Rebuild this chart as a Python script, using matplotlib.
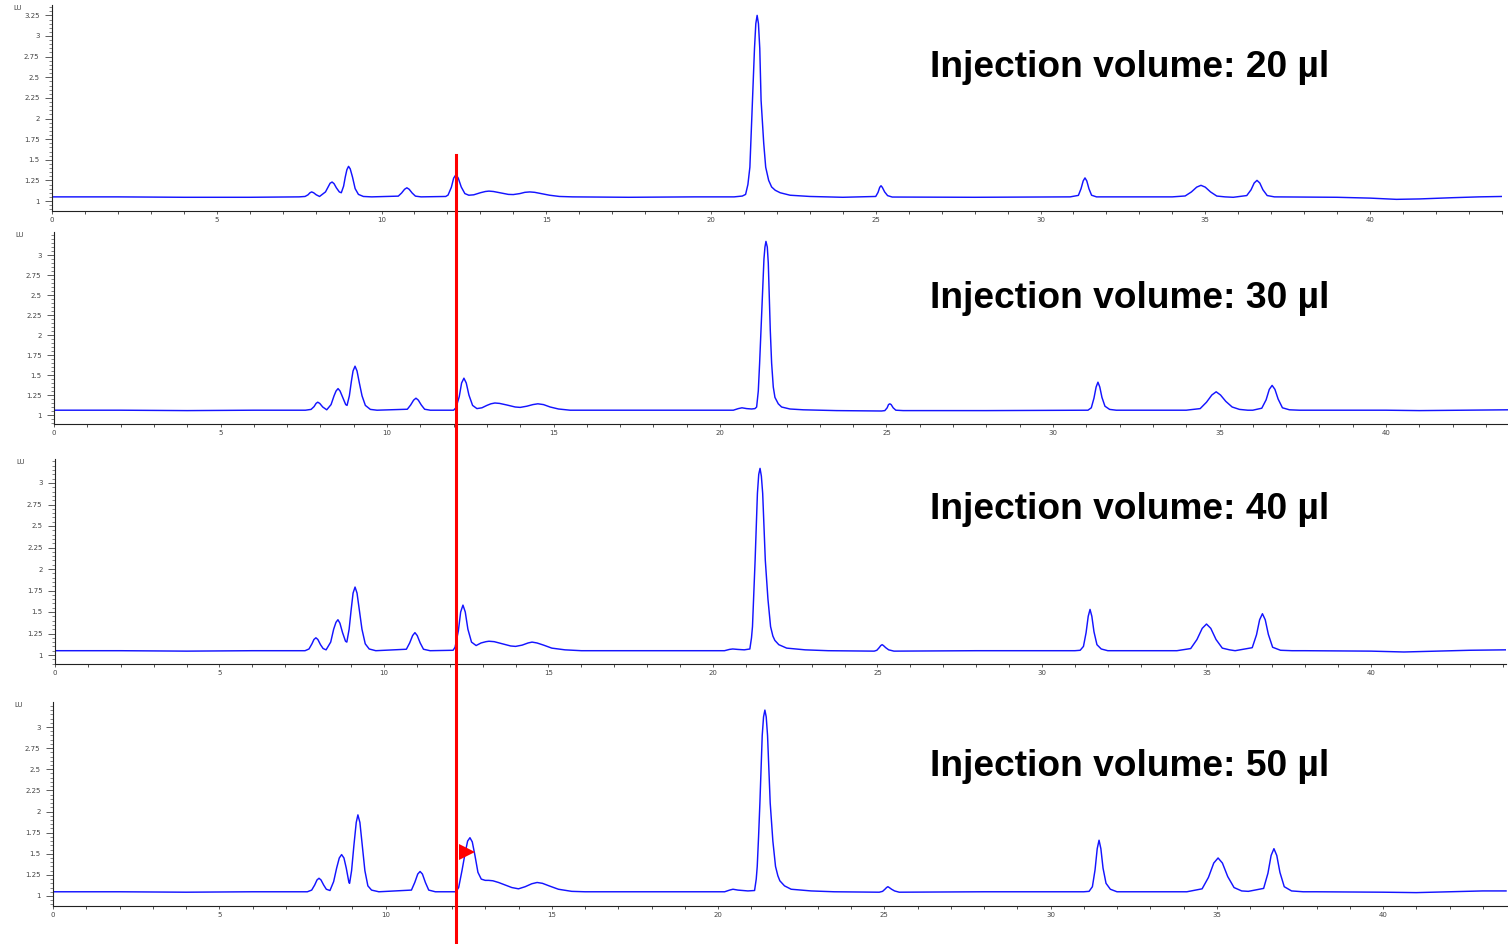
import matplotlib
matplotlib.use("Agg")
import matplotlib.pyplot as plt
from matplotlib.lines import Line2D
from matplotlib.ticker import MultipleLocator, FuncFormatter

# ---------------- data: (retention time [min], signal [LU]) ----------------
labels = ["Injection volume: 20 µl", "Injection volume: 30 µl",
          "Injection volume: 40 µl", "Injection volume: 50 µl"]

trace_20 = [
    (0, 1.05), (2, 1.05), (4, 1.045), (6, 1.045), (7.5, 1.05), (7.68, 1.055), (7.77, 1.075),
    (7.83, 1.10), (7.88, 1.11), (7.94, 1.10), (8.02, 1.075), (8.12, 1.055), (8.3, 1.11),
    (8.38, 1.17), (8.44, 1.215), (8.5, 1.23), (8.56, 1.21), (8.63, 1.16), (8.72, 1.11),
    (8.78, 1.10), (8.85, 1.18), (8.9, 1.29), (8.95, 1.38), (9.0, 1.42), (9.05, 1.39),
    (9.12, 1.29), (9.2, 1.15), (9.3, 1.08), (9.45, 1.055), (9.7, 1.05),
    (10.51, 1.059), (10.61, 1.097), (10.7, 1.142), (10.77, 1.16), (10.84, 1.142), (10.93, 1.097),
    (11.03, 1.059), (11.2, 1.05),
    (11.95, 1.055), (12.02, 1.072), (12.12, 1.166), (12.19, 1.277), (12.26, 1.32), (12.33, 1.277),
    (12.42, 1.17), (12.53, 1.09), (12.65, 1.07), (12.8, 1.075), (13.0, 1.10), (13.15, 1.115),
    (13.26, 1.12), (13.4, 1.115), (13.6, 1.10), (13.85, 1.08), (14.0, 1.078), (14.2, 1.09),
    (14.35, 1.105), (14.5, 1.11), (14.65, 1.105), (14.85, 1.09), (15.1, 1.07), (15.4, 1.055),
    (15.8, 1.05), (17.5, 1.045), (19.5, 1.05),
    (20.7, 1.05), (20.95, 1.06), (21.05, 1.08), (21.12, 1.2), (21.18, 1.41), (21.26, 2.22),
    (21.32, 2.85), (21.36, 3.15), (21.4, 3.25), (21.44, 3.15), (21.48, 2.85), (21.52, 2.22),
    (21.6, 1.7), (21.66, 1.41), (21.75, 1.25), (21.84, 1.17), (21.95, 1.13), (22.1, 1.10),
    (22.4, 1.07), (23.0, 1.055), (24.0, 1.045),
    (25.0, 1.055), (25.07, 1.105), (25.12, 1.165), (25.16, 1.185), (25.2, 1.165), (25.27, 1.11),
    (25.36, 1.065), (25.5, 1.048), (28, 1.045), (30.9, 1.05),
    (31.15, 1.068), (31.23, 1.149), (31.295, 1.243), (31.35, 1.28), (31.405, 1.243),
    (31.47, 1.149), (31.55, 1.07), (31.7, 1.05), (34.0, 1.05),
    (34.39, 1.061), (34.58, 1.11), (34.74, 1.168), (34.87, 1.19), (35.0, 1.168), (35.16, 1.11),
    (35.35, 1.06), (35.6, 1.05), (35.85, 1.045),
    (36.26, 1.066), (36.39, 1.136), (36.485, 1.218), (36.57, 1.25), (36.655, 1.218),
    (36.75, 1.136), (36.88, 1.066), (37.1, 1.05),
    (38, 1.048), (39, 1.045), (40, 1.035), (40.8, 1.02), (41.5, 1.025), (42.5, 1.04),
    (43.3, 1.05), (44, 1.055),
]

trace_30 = [
    (0, 1.06), (2, 1.06), (4, 1.055), (6, 1.06), (7.55, 1.06), (7.72, 1.07), (7.81, 1.105),
    (7.87, 1.145), (7.92, 1.16), (7.98, 1.145), (8.07, 1.1), (8.19, 1.065), (8.32, 1.13),
    (8.41, 1.24), (8.47, 1.30), (8.53, 1.33), (8.59, 1.30), (8.67, 1.22), (8.76, 1.13),
    (8.8, 1.12), (8.87, 1.24), (8.93, 1.42), (8.98, 1.55), (9.04, 1.61), (9.1, 1.55),
    (9.17, 1.40), (9.25, 1.24), (9.35, 1.12), (9.5, 1.07), (9.7, 1.06),
    (10.61, 1.072), (10.71, 1.125), (10.8, 1.186), (10.87, 1.21), (10.94, 1.186), (11.03, 1.125),
    (11.13, 1.072), (11.3, 1.06),
    (12.0, 1.06), (12.07, 1.09), (12.17, 1.23), (12.24, 1.40), (12.31, 1.46), (12.38, 1.40),
    (12.46, 1.25), (12.57, 1.12), (12.7, 1.08), (12.85, 1.09), (13.0, 1.12), (13.12, 1.14),
    (13.24, 1.15), (13.38, 1.145), (13.6, 1.125), (13.85, 1.10), (14.0, 1.095), (14.2, 1.11),
    (14.38, 1.13), (14.53, 1.14), (14.7, 1.13), (14.9, 1.10), (15.15, 1.075), (15.5, 1.06),
    (17.5, 1.06), (19.5, 1.06),
    (20.4, 1.06), (20.55, 1.08), (20.66, 1.09), (20.8, 1.08), (20.95, 1.075), (21.05, 1.08),
    (21.1, 1.1), (21.15, 1.3), (21.19, 1.65), (21.23, 2.06), (21.28, 2.6), (21.32, 2.95),
    (21.35, 3.1), (21.38, 3.17), (21.42, 3.1), (21.45, 2.9), (21.48, 2.5), (21.51, 2.06),
    (21.55, 1.65), (21.6, 1.35), (21.65, 1.22), (21.75, 1.14), (21.85, 1.10), (22.1, 1.075),
    (22.5, 1.065), (23.5, 1.055), (24.85, 1.05),
    (24.95, 1.055), (25.02, 1.09), (25.06, 1.13), (25.1, 1.14), (25.14, 1.13), (25.2, 1.09),
    (25.28, 1.06), (25.5, 1.055), (28, 1.055), (30.9, 1.06),
    (31.05, 1.06), (31.15, 1.09), (31.23, 1.21), (31.295, 1.35), (31.35, 1.41), (31.405, 1.35),
    (31.47, 1.22), (31.56, 1.11), (31.7, 1.07), (31.9, 1.06), (34.0, 1.06),
    (34.42, 1.08), (34.61, 1.16), (34.77, 1.25), (34.9, 1.29), (35.03, 1.25), (35.19, 1.17),
    (35.38, 1.10), (35.6, 1.07), (35.85, 1.06), (36.0, 1.06),
    (36.27, 1.085), (36.4, 1.19), (36.495, 1.32), (36.58, 1.37), (36.665, 1.32), (36.76, 1.2),
    (36.89, 1.09), (37.1, 1.065), (37.4, 1.06),
    (38, 1.06), (40, 1.06), (41, 1.055), (42.5, 1.06), (43.7, 1.065),
]

trace_40 = [
    (0, 1.05), (2, 1.05), (4, 1.045), (6, 1.05), (7.6, 1.05), (7.72, 1.07), (7.81, 1.13),
    (7.87, 1.18), (7.93, 1.20), (7.99, 1.18), (8.07, 1.12), (8.15, 1.075), (8.24, 1.06),
    (8.38, 1.15), (8.47, 1.30), (8.54, 1.38), (8.6, 1.41), (8.66, 1.37), (8.74, 1.26),
    (8.83, 1.16), (8.87, 1.15), (8.94, 1.3), (9.0, 1.52), (9.06, 1.72), (9.12, 1.79),
    (9.18, 1.72), (9.25, 1.52), (9.33, 1.3), (9.43, 1.13), (9.55, 1.07), (9.75, 1.05),
    (10.68, 1.067), (10.78, 1.14), (10.87, 1.226), (10.94, 1.26), (11.01, 1.226), (11.1, 1.14),
    (11.2, 1.067), (11.4, 1.05),
    (12.1, 1.055), (12.16, 1.09), (12.26, 1.28), (12.33, 1.5), (12.4, 1.58), (12.47, 1.5),
    (12.55, 1.3), (12.66, 1.15), (12.8, 1.11), (12.95, 1.14), (13.1, 1.155), (13.19, 1.16),
    (13.35, 1.155), (13.6, 1.13), (13.85, 1.105), (14.0, 1.10), (14.2, 1.115), (14.38, 1.14),
    (14.5, 1.15), (14.65, 1.14), (14.85, 1.115), (15.1, 1.08), (15.5, 1.06), (16, 1.05),
    (18, 1.05), (20.35, 1.05),
    (20.5, 1.065), (20.6, 1.07), (20.75, 1.065), (20.95, 1.06), (21.12, 1.07), (21.17, 1.2),
    (21.2, 1.33), (21.24, 1.7), (21.28, 2.1), (21.32, 2.55), (21.35, 2.88), (21.39, 3.1),
    (21.43, 3.17), (21.47, 3.08), (21.51, 2.88), (21.55, 2.5), (21.59, 2.1), (21.67, 1.65),
    (21.75, 1.33), (21.82, 1.22), (21.88, 1.17), (22.0, 1.12), (22.24, 1.08), (22.8, 1.06),
    (23.5, 1.05), (24.9, 1.045),
    (24.98, 1.055), (25.05, 1.085), (25.1, 1.11), (25.14, 1.12), (25.18, 1.11), (25.25, 1.085),
    (25.34, 1.06), (25.5, 1.045), (28, 1.05), (31.0, 1.05),
    (31.16, 1.055), (31.26, 1.10), (31.34, 1.26), (31.405, 1.45), (31.46, 1.53), (31.515, 1.45),
    (31.58, 1.27), (31.67, 1.12), (31.8, 1.07), (32.0, 1.05), (34.1, 1.05),
    (34.52, 1.075), (34.71, 1.18), (34.87, 1.31), (35.0, 1.36), (35.13, 1.31), (35.29, 1.18),
    (35.48, 1.08), (35.7, 1.06), (35.87, 1.05),
    (36.39, 1.085), (36.52, 1.235), (36.615, 1.41), (36.7, 1.48), (36.785, 1.41), (36.88, 1.24),
    (37.01, 1.09), (37.25, 1.055), (37.6, 1.05),
    (38, 1.05), (40, 1.045), (41, 1.035), (42, 1.045), (43, 1.055), (44.1, 1.06),
]

trace_50 = [
    (0, 1.05), (2, 1.05), (4, 1.045), (6, 1.05), (7.65, 1.05), (7.78, 1.07), (7.87, 1.13),
    (7.94, 1.19), (8.0, 1.21), (8.06, 1.19), (8.14, 1.13), (8.22, 1.08), (8.33, 1.065),
    (8.44, 1.17), (8.53, 1.33), (8.61, 1.45), (8.68, 1.49), (8.75, 1.45), (8.82, 1.33),
    (8.9, 1.16), (8.92, 1.15), (8.98, 1.3), (9.05, 1.6), (9.12, 1.87), (9.17, 1.96),
    (9.23, 1.87), (9.3, 1.6), (9.38, 1.3), (9.47, 1.12), (9.58, 1.07), (9.8, 1.05),
    (10.78, 1.07), (10.88, 1.16), (10.97, 1.26), (11.04, 1.29), (11.11, 1.26), (11.2, 1.16),
    (11.3, 1.07), (11.5, 1.05),
    (12.12, 1.05), (12.2, 1.10), (12.3, 1.30), (12.4, 1.52), (12.47, 1.65), (12.54, 1.69),
    (12.61, 1.64), (12.69, 1.48), (12.78, 1.28), (12.88, 1.20), (13.0, 1.185), (13.1, 1.185),
    (13.23, 1.18), (13.4, 1.16), (13.6, 1.13), (13.8, 1.10), (14.0, 1.085), (14.2, 1.11),
    (14.4, 1.145), (14.56, 1.16), (14.72, 1.15), (14.92, 1.12), (15.2, 1.08), (15.6, 1.055),
    (16, 1.05), (18, 1.05), (20.2, 1.05),
    (20.35, 1.07), (20.45, 1.08), (20.6, 1.07), (20.9, 1.06), (21.1, 1.065), (21.15, 1.2),
    (21.18, 1.35), (21.22, 1.7), (21.26, 2.1), (21.3, 2.55), (21.33, 2.9), (21.37, 3.12),
    (21.41, 3.2), (21.45, 3.12), (21.49, 2.9), (21.53, 2.5), (21.57, 2.1), (21.65, 1.65),
    (21.73, 1.35), (21.8, 1.24), (21.86, 1.18), (22.0, 1.12), (22.2, 1.08), (22.8, 1.06),
    (23.5, 1.05), (24.85, 1.045),
    (24.95, 1.055), (25.02, 1.08), (25.07, 1.10), (25.11, 1.11), (25.15, 1.10), (25.22, 1.08),
    (25.31, 1.06), (25.45, 1.045), (28, 1.05), (31.0, 1.05),
    (31.16, 1.055), (31.26, 1.11), (31.34, 1.31), (31.405, 1.56), (31.46, 1.66), (31.515, 1.56),
    (31.58, 1.33), (31.67, 1.15), (31.8, 1.08), (32.0, 1.05), (34.1, 1.05),
    (34.56, 1.085), (34.75, 1.22), (34.91, 1.39), (35.04, 1.45), (35.17, 1.39), (35.33, 1.23),
    (35.52, 1.10), (35.75, 1.06), (35.95, 1.055),
    (36.41, 1.09), (36.54, 1.27), (36.635, 1.48), (36.72, 1.56), (36.805, 1.48), (36.9, 1.28),
    (37.03, 1.11), (37.25, 1.06), (37.6, 1.05),
    (38, 1.05), (40, 1.045), (41, 1.04), (42, 1.05), (43, 1.06), (43.7, 1.06),
]

traces = [trace_20, trace_30, trace_40, trace_50]
y_ticks_top = [3.25, 3.0, 3.0, 3.0]
marker_time = 12.26                      # red reference line (min)
arrow_time, arrow_signal = 12.45, 1.52   # red triangle on the 50 µl trace

# ---------------- layout (pixel geometry of the reference) ----------------
W, H = 1508, 944
# left px, x px per min, bottom px, top px, px of y=1, px per LU, right px
geom = [
    (52, 32.95, 211, 5, 201, 82.5, 1502),
    (54, 33.3, 424, 232, 415, 80.0, 1508),
    (55, 32.9, 664, 459, 655, 86.0, 1506),
    (53, 33.25, 906, 702, 896, 84.5, 1507),
]
text_baseline_px = [77, 308, 519, 776]

plt.rcParams['font.family'] = ['Liberation Sans', 'DejaVu Sans']
fig = plt.figure(figsize=(W / 100, H / 100), dpi=100)
fig.patch.set_facecolor('white')


def fmt(v, pos):
    return f"{v:.2f}".rstrip('0').rstrip('.')


axes = []
for i in range(4):
    left, xppu, bot, top, y1, yppu, right = geom[i]
    ax = fig.add_axes([left / W, 1 - bot / H, (right - left) / W, (bot - top) / H])
    ax.set_xlim(0, (right - left) / xppu)
    ax.set_ylim(1 - (bot - y1) / yppu, 1 + (y1 - top) / yppu)
    tt = [p[0] for p in traces[i]]
    ss = [p[1] for p in traces[i]]
    ax.plot(tt, ss, color='#1414ff', lw=1.05, solid_joinstyle='round')
    for sp in ['top', 'right']:
        ax.spines[sp].set_visible(False)
    for sp in ['left', 'bottom']:
        ax.spines[sp].set_linewidth(0.8)
        ax.spines[sp].set_color('#222222')
    ax.xaxis.set_major_locator(MultipleLocator(5))
    ax.xaxis.set_minor_locator(MultipleLocator(1))
    yt = [1 + 0.25 * k for k in range(int(round((y_ticks_top[i] - 1) / 0.25)) + 1)]
    ax.set_yticks(yt)
    ax.yaxis.set_minor_locator(MultipleLocator(0.05))
    ax.yaxis.set_major_formatter(FuncFormatter(fmt))
    ax.tick_params(axis='both', which='major', labelsize=5.0, colors='#444444',
                   direction='out', width=0.6)
    ax.tick_params(axis='y', which='major', length=5, pad=4)
    ax.tick_params(axis='y', which='minor', length=2.5, width=0.5, colors='#555555')
    ax.tick_params(axis='x', which='major', length=2.5, pad=1.5)
    ax.tick_params(axis='x', which='minor', length=2.5, width=0.6, colors='#333333')
    for lab in ax.get_xticklabels() + ax.get_yticklabels():
        lab.set_family('DejaVu Sans')
    ax.patch.set_alpha(0)
    ax.annotate("LU", xy=(0, 1), xycoords='axes fraction', xytext=(-25, -2.5),
                textcoords='offset points', fontsize=5.0, color='#444444',
                family='DejaVu Sans', ha='center', va='center')
    fig.text(930 / W, 1 - text_baseline_px[i] / H, labels[i], fontsize=26.7,
             fontweight='bold', ha='left', va='baseline', color='black')
    axes.append(ax)

# red reference line across all panels
fig.canvas.draw()
xf, yf = fig.transFigure.inverted().transform(axes[0].transData.transform((marker_time, 1.56)))
fig.add_artist(Line2D([xf, xf], [0, yf], transform=fig.transFigure, color='#ff0000', lw=2.2))

# red triangle in the 50 µl panel
axes[3].plot([arrow_time], [arrow_signal], marker='>', color='#ff0000', ms=11,
             markeredgewidth=0, clip_on=False)

fig.savefig('out.png', dpi=100, facecolor='white')
